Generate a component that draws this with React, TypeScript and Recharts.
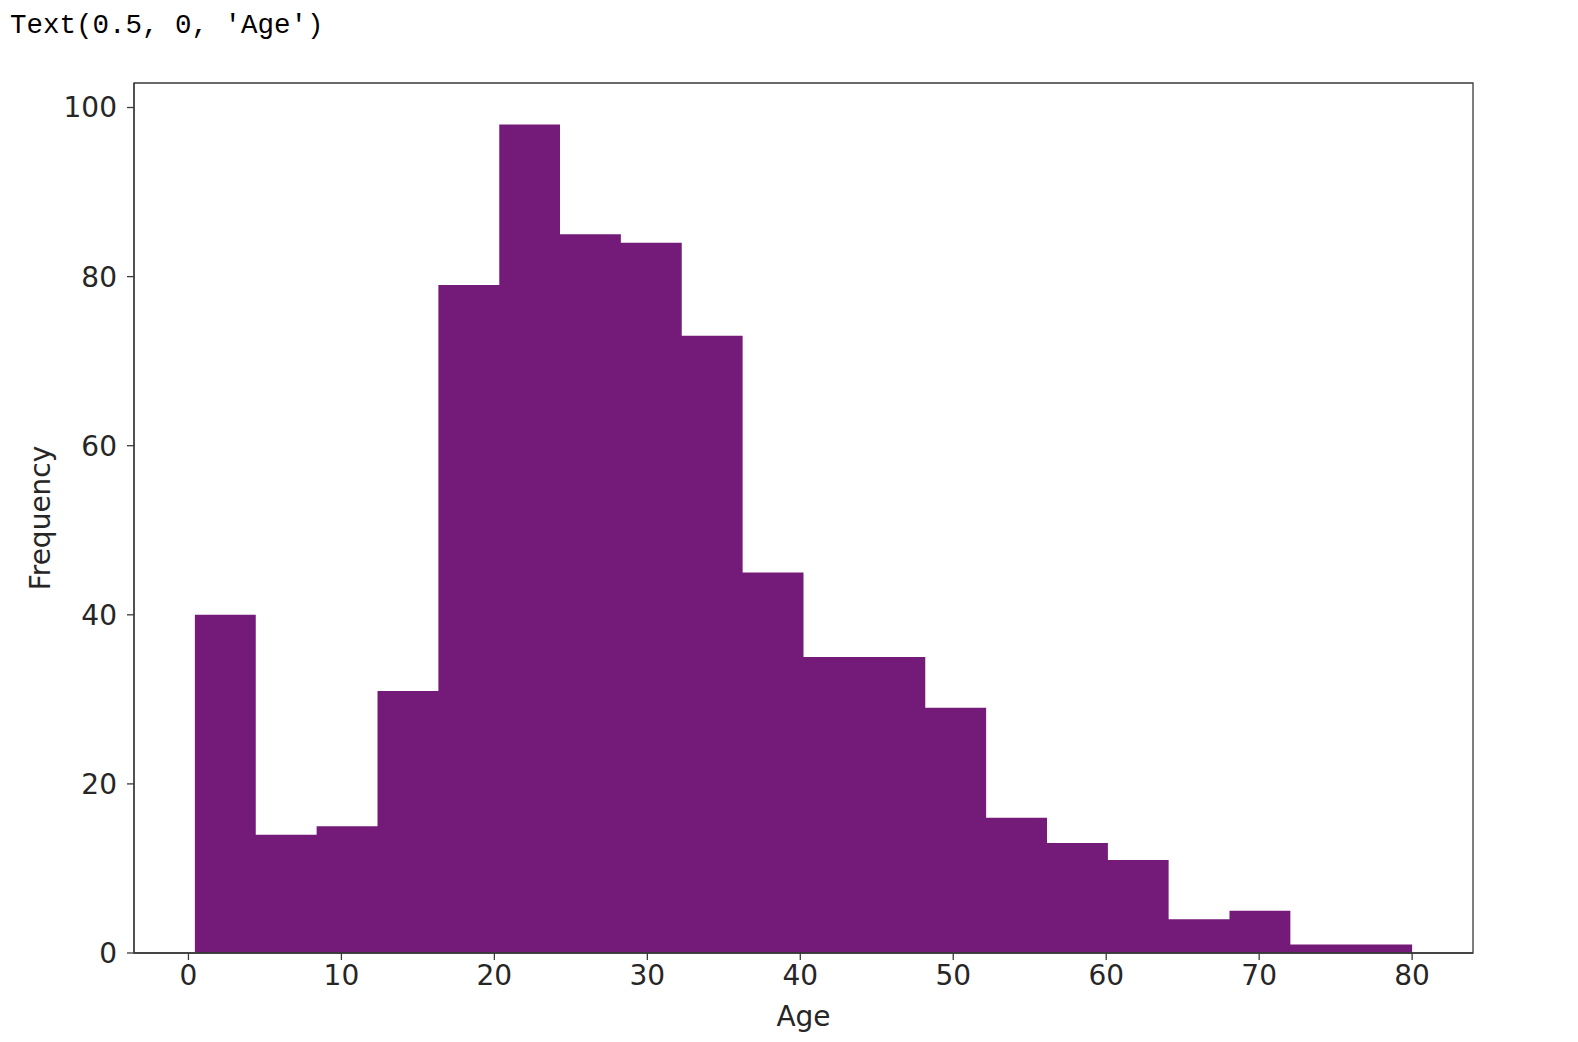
import { ComposedChart, Area, XAxis, YAxis, ReferenceArea } from 'recharts';

// histogram bin edges (21 edges -> 20 bins) and counts
const binEdges = [0.42, 4.4, 8.38, 12.36, 16.34, 20.32, 24.29, 28.27, 32.25, 36.23, 40.21, 44.19, 48.17, 52.15, 56.13, 60.11, 64.08, 68.06, 72.04, 76.02, 80];
const ageCounts = [40, 14, 15, 31, 79, 98, 85, 84, 73, 45, 35, 35, 29, 16, 13, 11, 4, 5, 1, 1];
const xTicks = [0, 10, 20, 30, 40, 50, 60, 70, 80];
const yTicks = [0, 20, 40, 60, 80, 100];

const xDomain = [-3.56, 83.98];
const yDomain = [0, 102.9];

const purple = '#741a79';
const spine = '#3a3a3a';
const tickStyle = { fontSize: 28, fill: '#262626', fontFamily: 'DejaVu Sans' };

// stepAfter needs one point per edge; last edge repeats last count
const histData = binEdges.map((edge, i) => ({
  age: edge,
  count: ageCounts[Math.min(i, ageCounts.length - 1)],
}));

const App = () => {
  return (
    <div style={{ position: 'absolute', left: 0, top: 0, width: 1578, height: 1042, background: '#fff' }}>
      <div
        style={{
          position: 'absolute',
          left: 10,
          top: 12,
          fontFamily: '"Liberation Mono", monospace',
          fontSize: 27.5,
          lineHeight: 1,
          color: '#000',
          whiteSpace: 'pre',
        }}
      >
        Text(0.5, 0, 'Age')
      </div>
      <ComposedChart
        width={1578}
        height={1042}
        data={histData}
        margin={{ top: 83, right: 105, bottom: 16, left: 0 }}
      >
        <XAxis
          dataKey="age"
          type="number"
          domain={xDomain}
          ticks={xTicks}
          allowDataOverflow
          height={73}
          stroke={spine}
          strokeWidth={1.3}
          tickSize={7}
          tickMargin={5}
          tick={tickStyle}
          label={{ value: 'Age', position: 'insideBottom', offset: 0, fontSize: 28, fill: '#262626', fontFamily: 'DejaVu Sans' }}
        />
        <YAxis
          type="number"
          domain={yDomain}
          ticks={yTicks}
          allowDataOverflow
          width={134}
          stroke={spine}
          strokeWidth={1.3}
          tickSize={7}
          tickMargin={10}
          tick={tickStyle}
          label={{
            value: 'Frequency',
            angle: -90,
            position: 'insideLeft',
            offset: 40,
            fontSize: 28,
            fill: '#262626',
            fontFamily: 'DejaVu Sans',
            style: { textAnchor: 'middle' },
          }}
        />
        <Area
          type="stepAfter"
          dataKey="count"
          stroke="none"
          fill={purple}
          fillOpacity={1}
          isAnimationActive={false}
        />
        {/* full frame around the axes, like matplotlib's four spines */}
        <ReferenceArea
          x1={xDomain[0]}
          x2={xDomain[1]}
          y1={yDomain[0]}
          y2={yDomain[1]}
          fill="none"
          fillOpacity={0}
          stroke={spine}
          strokeWidth={1.3}
          strokeOpacity={1}
          ifOverflow="visible"
        />
      </ComposedChart>
    </div>
  );
};

export default App;
